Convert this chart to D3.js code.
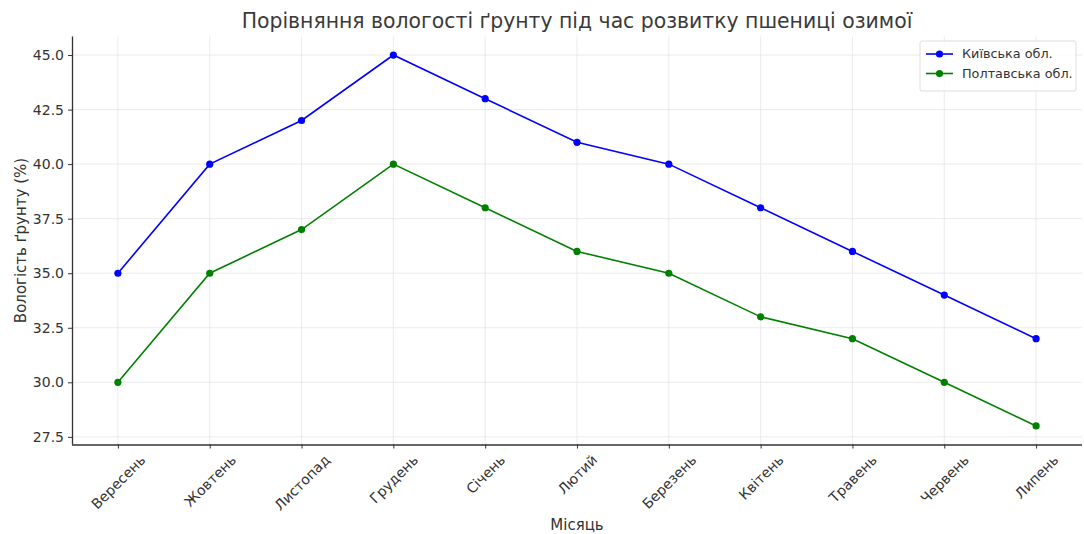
<!DOCTYPE html>
<html>
<head>
<meta charset="utf-8">
<script src="https://cdn.jsdelivr.net/npm/d3@7"></script>
<style>
  body { margin: 0; background: #fff; }
  text { font-family: "DejaVu Sans", sans-serif; fill: #333; }
</style>
</head>
<body>
<svg></svg>
<script>
// data
var months = ["Вересень", "Жовтень", "Листопад", "Грудень", "Січень", "Лютий",
              "Березень", "Квітень", "Травень", "Червень", "Липень"];
var kyiv = [35, 40, 42, 45, 43, 41, 40, 38, 36, 34, 32];
var poltava = [30, 35, 37, 40, 38, 36, 35, 33, 32, 30, 28];
var yTicks = [27.5, 30, 32.5, 35, 37.5, 40, 42.5, 45];
var seriesNames = ["Київська обл.", "Полтавська обл."];
var seriesColors = ["#0000ff", "#008000"];

var W = 1084, H = 534;
var mLeft = 72, mRight = 1082, mTop = 36.5, mBottom = 444.5;

var svg = d3.select("svg").attr("width", W).attr("height", H);

var x = d3.scalePoint().domain(months).range([mLeft, mRight]).padding(0.5);
var y = d3.scaleLinear().domain([27.15, 45.85]).range([mBottom, mTop]);

// grid
svg.append("g").selectAll("line").data(months).enter().append("line")
  .attr("x1", function(d) { return x(d); }).attr("x2", function(d) { return x(d); })
  .attr("y1", mTop).attr("y2", mBottom)
  .attr("stroke", "#e6e6e6").attr("stroke-width", 0.8);
svg.append("g").selectAll("line").data(yTicks).enter().append("line")
  .attr("x1", mLeft).attr("x2", mRight)
  .attr("y1", function(d) { return y(d); }).attr("y2", function(d) { return y(d); })
  .attr("stroke", "#e6e6e6").attr("stroke-width", 0.8);

// axes
var yAxis = svg.append("g").attr("transform", "translate(" + mLeft + ",0)")
  .call(d3.axisLeft(y).tickValues(yTicks).tickFormat(d3.format(".1f")).tickSizeOuter(0).tickSize(4).tickPadding(4));
var xAxis = svg.append("g").attr("transform", "translate(0," + mBottom + ")")
  .call(d3.axisBottom(x).tickSizeOuter(0).tickSize(4).tickPadding(4));

[yAxis, xAxis].forEach(function(a) {
  a.select(".domain").attr("stroke", "#333").attr("stroke-width", 1.3);
  a.selectAll(".tick line").attr("stroke", "#333").attr("stroke-width", 1);
  a.selectAll(".tick text").attr("font-size", 14).attr("fill", "#333")
    .attr("font-family", "DejaVu Sans, sans-serif");
});
yAxis.select(".domain").attr("d", "M0.5," + mTop + "V" + mBottom);
xAxis.select(".domain").attr("d", "M" + mLeft + ",0.5H" + mRight);

// rotated month labels, bbox centred under tick
xAxis.selectAll(".tick text").each(function() {
  var t = d3.select(this);
  var w = this.getComputedTextLength();
  var h = 14;
  var s = Math.SQRT1_2;
  t.attr("y", null).attr("dy", "0.35em").attr("text-anchor", "middle")
   .attr("transform", "translate(0," + (8 + (w + h) * s / 2) + ") rotate(-45)");
});

// lines and points
var line = d3.line().x(function(d, i) { return x(months[i]); }).y(function(d) { return y(d); });
[kyiv, poltava].forEach(function(vals, k) {
  svg.append("path").datum(vals).attr("d", line)
    .attr("fill", "none").attr("stroke", seriesColors[k]).attr("stroke-width", 1.6);
  svg.append("g").selectAll("circle").data(vals).enter().append("circle")
    .attr("cx", function(d, i) { return x(months[i]); })
    .attr("cy", function(d) { return y(d); })
    .attr("r", 3.6).attr("fill", seriesColors[k]);
});

// title and axis labels
svg.append("text").attr("x", (mLeft + mRight) / 2).attr("y", 28)
  .attr("text-anchor", "middle").attr("font-size", 20.4).style("fill", "#3a3a3a")
  .text("Порівняння вологості ґрунту під час розвитку пшениці озимої");
svg.append("text").attr("x", (mLeft + mRight) / 2).attr("y", 530)
  .attr("text-anchor", "middle").attr("font-size", 15).text("Місяць");
svg.append("text").attr("transform", "translate(26," + ((mTop + mBottom) / 2) + ") rotate(-90)")
  .attr("text-anchor", "middle").attr("font-size", 15).text("Вологість ґрунту (%)");

// legend
var lg = svg.append("g").attr("transform", "translate(920,41)");
lg.append("rect").attr("width", 156).attr("height", 50).attr("rx", 2)
  .attr("fill", "#fff").attr("fill-opacity", 0.8).attr("stroke", "#ddd");
seriesNames.forEach(function(n, k) {
  var yy = 13 + k * 19.5;
  lg.append("line").attr("x1", 6).attr("x2", 33).attr("y1", yy).attr("y2", yy)
    .attr("stroke", seriesColors[k]).attr("stroke-width", 1.6);
  lg.append("circle").attr("cx", 19.5).attr("cy", yy).attr("r", 3.6).attr("fill", seriesColors[k]);
  lg.append("text").attr("x", 42).attr("y", yy).attr("dy", "0.35em")
    .attr("font-size", 12.8).text(n);
});
</script>
</body>
</html>
